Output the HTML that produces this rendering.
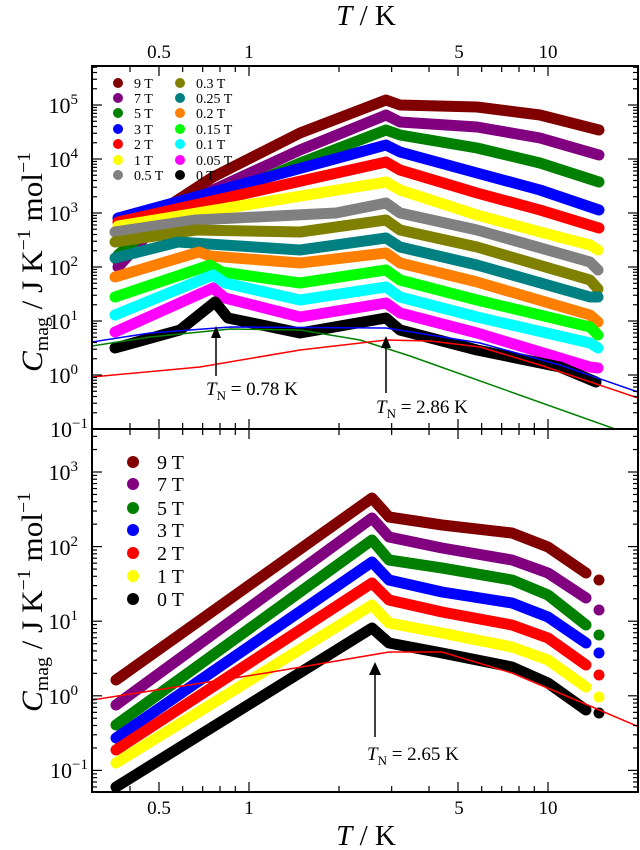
<!DOCTYPE html>
<html><head><meta charset="utf-8">
<style>
html,body{margin:0;padding:0;background:#fff;}
svg{display:block;}
text{font-family:"Liberation Serif",serif;fill:#000;}
</style></head>
<body>
<svg id="s" width="640" height="850" viewBox="0 0 640 850" xmlns="http://www.w3.org/2000/svg">
<defs>
<clipPath id="ct"><rect x="92" y="66" width="546" height="363"/></clipPath>
<clipPath id="cb"><rect x="92" y="429" width="546" height="363"/></clipPath>
</defs>
<g id="curves"></g>
<g id="ticks" stroke="#000" stroke-width="1.2"></g>
<rect x="92" y="66" width="546" height="726" fill="none" stroke="#000" stroke-width="2"/>
<line x1="92" y1="429" x2="638" y2="429" stroke="#000" stroke-width="2"/>

<text x="366" y="25" font-size="29" text-anchor="middle"><tspan font-style="italic">T</tspan>  /  K</text>
<text x="159" y="58" font-size="19" text-anchor="middle">0.5</text>
<text x="249" y="58" font-size="19" text-anchor="middle">1</text>
<text x="459" y="58" font-size="19" text-anchor="middle">5</text>
<text x="548" y="58" font-size="19" text-anchor="middle">10</text>
<text x="159" y="814" font-size="19" text-anchor="middle">0.5</text>
<text x="249" y="814" font-size="19" text-anchor="middle">1</text>
<text x="459" y="814" font-size="19" text-anchor="middle">5</text>
<text x="548" y="814" font-size="19" text-anchor="middle">10</text>
<text x="366" y="845" font-size="29" text-anchor="middle"><tspan font-style="italic">T</tspan>  /  K</text>

<g font-size="22" text-anchor="end">
<text x="78" y="113">10<tspan font-size="15" dy="-9">5</tspan></text>
<text x="78" y="167">10<tspan font-size="15" dy="-9">4</tspan></text>
<text x="78" y="221">10<tspan font-size="15" dy="-9">3</tspan></text>
<text x="78" y="275">10<tspan font-size="15" dy="-9">2</tspan></text>
<text x="78" y="329">10<tspan font-size="15" dy="-9">1</tspan></text>
<text x="78" y="383">10<tspan font-size="15" dy="-9">0</tspan></text>
<text x="88" y="437">10<tspan font-size="15" dy="-9">−1</tspan></text>
<text x="78" y="480">10<tspan font-size="15" dy="-9">3</tspan></text>
<text x="78" y="555">10<tspan font-size="15" dy="-9">2</tspan></text>
<text x="78" y="629">10<tspan font-size="15" dy="-9">1</tspan></text>
<text x="78" y="704">10<tspan font-size="15" dy="-9">0</tspan></text>
<text x="88" y="778">10<tspan font-size="15" dy="-9">−1</tspan></text>
</g>

<text transform="translate(42,262) rotate(-90)" font-size="30" text-anchor="middle" textLength="220" lengthAdjust="spacingAndGlyphs"><tspan font-style="italic">C</tspan><tspan font-size="19" dy="6">mag</tspan><tspan dy="-6">  /  J K</tspan><tspan font-size="19" dy="-12">−1</tspan><tspan dy="12"> mol</tspan><tspan font-size="19" dy="-12">−1</tspan></text>
<text transform="translate(42,602) rotate(-90)" font-size="30" text-anchor="middle" textLength="220" lengthAdjust="spacingAndGlyphs"><tspan font-style="italic">C</tspan><tspan font-size="19" dy="6">mag</tspan><tspan dy="-6">  /  J K</tspan><tspan font-size="19" dy="-12">−1</tspan><tspan dy="12"> mol</tspan><tspan font-size="19" dy="-12">−1</tspan></text>

<g id="leg"></g>

<g stroke="#000" stroke-width="1.5">
<line x1="216" y1="337" x2="216" y2="376"/>
<line x1="386" y1="347" x2="386" y2="393"/>
<line x1="375" y1="673" x2="375" y2="737"/>
</g>
<polygon points="216,326 211,338 221,338" fill="#000"/>
<polygon points="386,336 381,348 391,348" fill="#000"/>
<polygon points="375,662 369,675 381,675" fill="#000"/>
<text x="206" y="395" font-size="19"><tspan font-style="italic">T</tspan><tspan font-size="13" dy="5">N</tspan><tspan dy="-5"> = 0.78 K</tspan></text>
<text x="376" y="413" font-size="19"><tspan font-style="italic">T</tspan><tspan font-size="13" dy="5">N</tspan><tspan dy="-5"> = 2.86 K</tspan></text>
<text x="367" y="760" font-size="19"><tspan font-style="italic">T</tspan><tspan font-size="13" dy="5">N</tspan><tspan dy="-5"> = 2.65 K</tspan></text>
</svg>
<script>
(function(){
var NS="http://www.w3.org/2000/svg";
function el(n,a,p){var e=document.createElementNS(NS,n);for(var k in a)e.setAttribute(k,a[k]);p.appendChild(e);return e;}
var tk=document.getElementById('ticks');
function X(T){return 249+299*Math.log10(T);}
var xs=[0.4,0.5,0.6,0.7,0.8,0.9,1,2,3,4,5,6,7,8,9,10,20];
var maj={0.5:1,1:1,5:1,10:1};
xs.forEach(function(t){var x=X(t);if(x<93||x>637)return;var L=maj[t]?10:6;
 el('line',{x1:x,y1:66,x2:x,y2:66+L},tk);
 el('line',{x1:x,y1:429-L,x2:x,y2:429+L},tk);
 el('line',{x1:x,y1:792-L,x2:x,y2:792},tk);});
function yt(y0,dec,lo,hi,t0,b0){for(var d=lo;d<=hi;d++){for(var m=1;m<10;m++){var y=y0-dec*(d+Math.log10(m));if(y<t0+0.5||y>b0-0.5)continue;var L=m==1?10:5;
 el('line',{x1:92,y1:y,x2:92+L,y2:y},tk);el('line',{x1:638-L,y1:y,x2:638,y2:y},tk);}}}
yt(105+5*54,54,-2,6,66,429);
yt(472+3*74.6,74.6,-2,4,429,792);
var cv=document.getElementById('curves');
var gt=el('g',{'clip-path':'url(#ct)'},cv);
var gb=el('g',{'clip-path':'url(#cb)'},cv);
function line(g,pts,col,w){
 var d='M'+pts.map(function(p){return p[0]+','+p[1]}).join(' L');
 el('path',{d:d,fill:'none',stroke:col,'stroke-width':w,'stroke-linejoin':'round','stroke-linecap':'round'},g);
}
var topC=[
['#800000',[[118,262],[140,235],[170,205],[213,177],[300,133],[386,100],[400,105],[477,107],[540,115],[599,130]]],
['#800080',[[118,267],[150,232],[213,190],[300,150],[386,115],[400,122],[477,127],[540,138],[599,155]]],
['#008000',[[118,255],[150,228],[213,200],[300,163],[386,130],[400,135],[477,148],[540,163],[599,182]]],
['#0000ff',[[118,218],[386,145],[400,152],[477,173],[540,190],[599,210]]],
['#ff0000',[[118,222],[386,162],[400,170],[477,193],[540,210],[599,228]]],
['#ffff00',[[118,226],[386,182],[400,190],[477,215],[540,232],[590,245],[598,250]]],
['#808080',[[115,232],[196,220],[336,213],[386,203],[400,213],[477,230],[590,262],[598,270]]],
['#808000',[[115,242],[196,230],[300,232],[386,220],[400,230],[477,247],[590,280],[598,289]]],
['#008080',[[115,258],[178,242],[300,250],[386,238],[400,247],[477,265],[590,297],[598,297]]],
['#ff8000',[[115,277],[199,252],[210,256],[300,263],[386,253],[400,263],[477,282],[590,315],[598,322]]],
['#00ff00',[[115,297],[210,265],[222,272],[300,283],[386,270],[400,280],[477,300],[590,327],[598,335]]],
['#00ffff',[[115,315],[213,275],[225,283],[300,300],[386,287],[400,297],[477,317],[590,343],[598,348]]],
['#ff00ff',[[115,332],[213,288],[225,298],[300,317],[386,303],[400,313],[477,333],[590,367],[598,368]]],
['#000000',[[115,348],[180,330],[215,302],[228,318],[300,333],[386,318],[400,330],[477,350],[560,367],[596,382]]]
];
topC.forEach(function(c){line(gt,c[1],c[0],11);});
line(gt,[[92,342],[150,333],[230,327],[386,328],[480,343],[560,365],[638,392]],'#0000ff',1.5);
line(gt,[[92,346],[150,337],[230,329],[300,330],[360,340],[410,356],[615,429],[640,438]],'#008000',1.5);
line(gt,[[92,377],[200,367],[300,350],[386,340],[430,341],[480,347],[540,365],[638,398]],'#ff0000',1.5);
var botC=[
['#800000',[[116,680],[372,498],[389,517],[442,525],[512,533],[548,547],[586,573]],[599,580]],
['#800080',[[116,705],[372,518],[389,537],[442,548],[512,560],[548,573],[586,598]],[599,610]],
['#008000',[[116,725],[372,540],[389,560],[442,568],[512,580],[548,595],[586,625]],[599,635]],
['#0000ff',[[116,738],[372,562],[389,580],[442,592],[512,603],[548,617],[586,643]],[599,653]],
['#ff0000',[[116,750],[372,583],[389,600],[442,612],[512,625],[548,638],[586,665]],[599,675]],
['#ffff00',[[116,763],[372,605],[389,623],[442,633],[512,647],[548,660],[586,687]],[599,697]],
['#000000',[[116,787],[372,628],[389,643],[442,653],[512,667],[548,683],[586,710]],[599,713]]
];
botC.forEach(function(c){line(gb,c[1],c[0],11);el('circle',{cx:c[2][0],cy:c[2][1],r:5.5,fill:c[0]},gb);});
line(gb,[[92,700],[266,673],[389,652],[442,652],[512,673],[583,703],[639,727]],'#ff0000',1.5);
var lg=document.getElementById('leg');
var l1=[['9 T','#800000'],['7 T','#800080'],['5 T','#008000'],['3 T','#0000ff'],['2 T','#ff0000'],['1 T','#ffff00'],['0.5 T','#808080']];
var l2=[['0.3 T','#808000'],['0.25 T','#008080'],['0.2 T','#ff8000'],['0.15 T','#00ff00'],['0.1 T','#00ffff'],['0.05 T','#ff00ff'],['0 T','#000000']];
var ys=[83,98,113,129,144,160,175];
for(var i=0;i<7;i++){
 el('circle',{cx:118,cy:ys[i],r:5,fill:l1[i][1]},lg);
 var t=el('text',{x:134,y:ys[i]+5,'font-size':14},lg);t.textContent=l1[i][0];
 el('circle',{cx:180,cy:ys[i],r:5,fill:l2[i][1]},lg);
 t=el('text',{x:196,y:ys[i]+5,'font-size':14},lg);t.textContent=l2[i][0];
}
var lb=[['9 T','#800000'],['7 T','#800080'],['5 T','#008000'],['3 T','#0000ff'],['2 T','#ff0000'],['1 T','#ffff00'],['0 T','#000000']];
var yb=[462,484,508,530,553,576,599];
for(var j=0;j<7;j++){
 el('circle',{cx:133,cy:yb[j],r:6,fill:lb[j][1]},lg);
 var tt=el('text',{x:157,y:yb[j]+7,'font-size':20},lg);tt.textContent=lb[j][0];
}
})();
</script>
</body></html>
